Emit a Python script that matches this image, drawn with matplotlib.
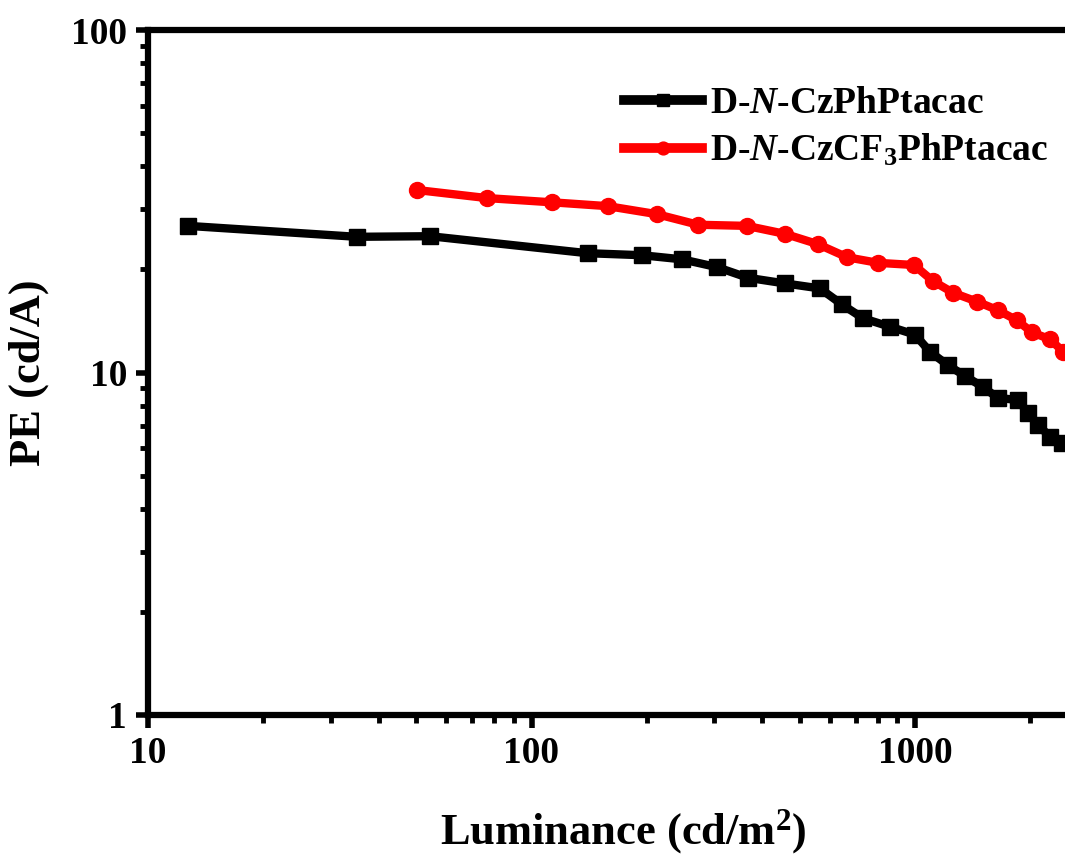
import matplotlib
matplotlib.use("Agg")
import matplotlib.pyplot as plt
from matplotlib.ticker import LogLocator, FixedLocator, NullFormatter
import math

plt.rcParams['font.family'] = ['Liberation Serif', 'DejaVu Serif']
plt.rcParams['font.weight'] = 'bold'
plt.rcParams['mathtext.fontset'] = 'custom'
plt.rcParams['mathtext.rm'] = 'Liberation Serif:bold'
plt.rcParams['mathtext.it'] = 'Liberation Serif:bold:italic'
plt.rcParams['mathtext.bf'] = 'Liberation Serif:bold'

# Data (luminance cd/m^2, PE cd/A)
lum_black = [12.7, 35.0, 54.4, 140, 194, 247, 305, 367, 458, 565, 645, 732, 861,
             1000, 1094, 1219, 1350, 1503, 1645, 1856, 1971, 2094, 2250, 2417]
pe_black = [26.8, 24.9, 25.0, 22.3, 22.0, 21.4, 20.3, 18.9, 18.2, 17.6, 15.8, 14.4, 13.6,
            12.9, 11.5, 10.5, 9.77, 9.07, 8.43, 8.31, 7.62, 7.03, 6.49, 6.22]

lum_red = [50.3, 76.6, 113, 158, 212, 272, 364, 458, 558, 665, 801, 994,
           1113, 1256, 1452, 1645, 1845, 2019, 2250, 2435]
pe_red = [34.1, 32.3, 31.4, 30.6, 29.0, 27.0, 26.8, 25.4, 23.7, 21.7, 20.9, 20.6,
          18.5, 17.1, 16.1, 15.2, 14.2, 13.1, 12.5, 11.5]

label_black = r'D-$\mathit{N}$-CzPhPtacac'
label_red = r'D-$\mathit{N}$-CzCF$_3$PhPtacac'

fig = plt.figure(figsize=(10.65, 8.57), dpi=100)
x_lo, x_hi = 10, 3000
left_px, decade_px = 148, 383.5
right_px = left_px + decade_px * (math.log10(x_hi) - math.log10(x_lo))
ax = fig.add_axes([left_px / 1065, 1 - 715 / 857, (right_px - left_px) / 1065, (715 - 30) / 857])

ax.plot(lum_black, pe_black, color='black', lw=6, marker='s', ms=11.5, label=label_black)
ax.plot(lum_red, pe_red, color='#ff0000', lw=6, marker='o', ms=11.5, label=label_red)

ax.set_xscale('log')
ax.set_yscale('log')
ax.set_xlim(x_lo, x_hi)
ax.set_ylim(1, 100)

ax.xaxis.set_major_locator(FixedLocator([10, 100, 1000]))
ax.yaxis.set_major_locator(FixedLocator([1, 10, 100]))
ax.xaxis.set_minor_locator(LogLocator(base=10, subs=range(2, 10), numticks=20))
ax.yaxis.set_minor_locator(LogLocator(base=10, subs=range(2, 10), numticks=20))
ax.xaxis.set_minor_formatter(NullFormatter())
ax.yaxis.set_minor_formatter(NullFormatter())
ax.set_xticklabels(['10', '100', '1000'])
ax.set_yticklabels(['1', '10', '100'])

for s in ax.spines.values():
    s.set_linewidth(4.5)
ax.tick_params(which='major', direction='out', length=9, width=4, labelsize=27, pad=6)
ax.tick_params(which='minor', direction='out', length=6, width=3.5)
ax.tick_params(top=False, right=False, which='both')

ax.set_xlabel(r'Luminance (cd/m$^2$)', fontsize=32, fontweight='bold', labelpad=26)
ax.set_ylabel('PE (cd/A)', fontsize=32, fontweight='bold', labelpad=16)

leg = ax.legend(loc='upper left', bbox_to_anchor=(0.485, 0.94), frameon=False,
                fontsize=27, handlelength=2.1, handletextpad=0.2, labelspacing=0.3,
                markerscale=0.8, borderaxespad=0)
for h in leg.legend_handles:
    h.set_markevery([1])
    h.set_linewidth(7)

fig.savefig('out.png', dpi=100)
